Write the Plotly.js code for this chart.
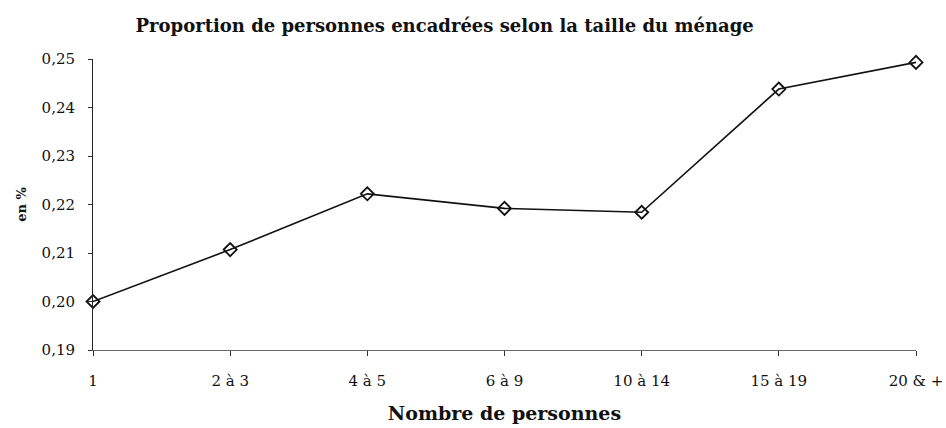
<!DOCTYPE html>
<html>
<head>
<meta charset="utf-8">
<script src="https://cdn.plot.ly/plotly-3.0.1.min.js"></script>
<style>
  html, body { margin: 0; padding: 0; background: #fff; }
  #plot { width: 946px; height: 428px; }
</style>
</head>
<body>
<div id="plot"></div>
<script>
const categories = ['1', '2 à 3', '4 à 5', '6 à 9', '10 à 14', '15 à 19', '20 & +'];
const proportions = [0.200, 0.2107, 0.2222, 0.2192, 0.2184, 0.2438, 0.2493];
const yTicks = [0.19, 0.20, 0.21, 0.22, 0.23, 0.24, 0.25];

const serif = 'DejaVu Serif, Liberation Serif, serif';

function drawChart() {
  Plotly.newPlot('plot', [{
    x: categories,
    y: proportions,
    type: 'scatter',
    mode: 'lines+markers',
    line: { color: '#111', width: 1.6 },
    marker: {
      symbol: 'diamond-open',
      size: 10,
      color: '#111',
      line: { color: '#111', width: 1.8 }
    },
    cliponaxis: false,
    hoverinfo: 'x+y'
  }], {
    width: 946,
    height: 428,
    paper_bgcolor: '#fff',
    plot_bgcolor: '#fff',
    separators: ', ',
    showlegend: false,
    font: { family: serif, size: 15, color: '#111' },
    margin: { l: 93, r: 30, t: 59, b: 78 },
    title: {
      text: '<b>Proportion de personnes encadrées selon la taille du ménage</b>',
      font: { family: serif, size: 18, color: '#111' },
      x: 0.47,
      xanchor: 'center',
      y: 0.94,
      yanchor: 'middle'
    },
    xaxis: {
      type: 'category',
      range: [0, 6],
      showgrid: false,
      zeroline: false,
      showline: true,
      linecolor: '#666',
      linewidth: 1,
      ticks: 'outside',
      ticklen: 5,
      tickcolor: '#333',
      tickfont: { family: serif, size: 15, color: '#111' },
      ticklabelstandoff: 12,
      title: {
        text: '<b>Nombre de personnes</b>',
        font: { family: serif, size: 19, color: '#111' },
        standoff: 17
      }
    },
    yaxis: {
      range: [0.19, 0.25],
      tickvals: yTicks,
      tickformat: '.2f',
      showgrid: false,
      zeroline: false,
      showline: true,
      linecolor: '#222',
      linewidth: 1,
      ticks: 'outside',
      ticklen: 4,
      tickcolor: '#333',
      tickfont: { family: serif, size: 15, color: '#111' },
      ticklabelstandoff: 10,
      title: {
        text: '<b>en %</b>',
        font: { family: serif, size: 13, color: '#111' },
        standoff: 12
      }
    }
  }, { displayModeBar: false, staticPlot: true });
}

drawChart();
</script>
</body>
</html>
